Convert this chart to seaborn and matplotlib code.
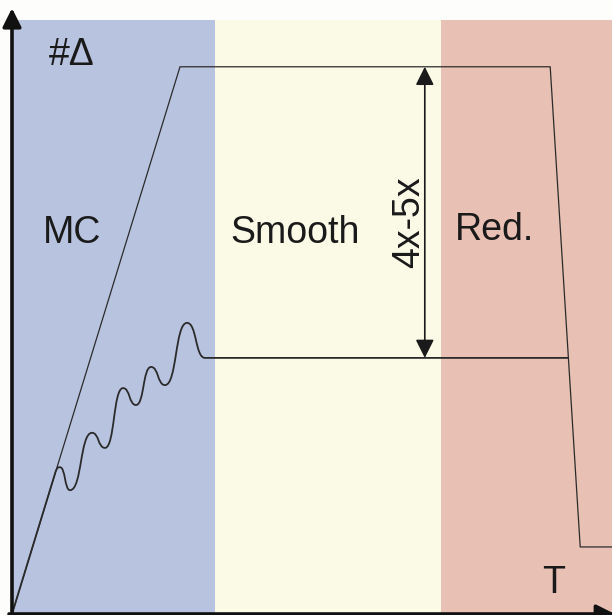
import seaborn as sns
import matplotlib.pyplot as plt
from matplotlib.path import Path
from matplotlib.patches import PathPatch

# --- Data (T on x, #Delta on y, both 0..100) ---
PHASES = ['MC', 'Smooth', 'Red.']
PHASE_START = [0, 33.8, 71.5]
PHASE_END = [33.8, 71.5, 100]
PHASE_COLORS = ['#b8c3df', '#fafae6', '#e9c0b4']
BAND_TOP = 98.3

# upper envelope (plain refinement)
UPPER_T = [0, 28.0, 89.7, 94.7, 100]
UPPER_D = [0, 90.6, 90.6, 11.1, 11.1]

# lower curve: start, departure from the ramp, then peaks/troughs, plateau
WAVE_T = [0, 7.0, 8.0, 9.67, 13.33, 15.5, 18.5, 20.67, 23.17, 25.5, 29.17, 32.17]
WAVE_D = [0, 22.7, 24.3, 20.5, 30.0, 27.5, 37.4, 34.6, 40.9, 37.9, 48.2, 42.4]
PLATEAU_END_T = 92.67

# 4x-5x range marker
RANGE_T = 68.8
RANGE_LOW = 42.4
RANGE_HIGH = 90.6


def draw():
    sns.set_theme(style="white")
    plt.rcParams['font.family'] = ['Liberation Sans', 'DejaVu Sans']

    fig = plt.figure(figsize=(6.12, 6.15), dpi=100)
    fig.patch.set_facecolor('#fdfdfb')
    ax = fig.add_axes([12 / 612, 1 / 615, 600 / 612, 604 / 615])
    ax.set_xlim(0, 100)
    ax.set_ylim(0, 100)
    ax.axis('off')

    # coloured phase bands
    for start, end, col in zip(PHASE_START, PHASE_END, PHASE_COLORS):
        ax.fill_between([start, end], 0, BAND_TOP, color=col, lw=0, zorder=0)

    line_col = '#2b2b2b'

    # upper envelope
    sns.lineplot(x=UPPER_T, y=UPPER_D, ax=ax, sort=False, estimator=None,
                 color=line_col, lw=0.9, zorder=3)

    # wavy lower curve as bezier path (horizontal tangents at the extremes)
    slope = UPPER_D[1] / UPPER_T[1]
    verts = [(WAVE_T[0], WAVE_D[0]), (WAVE_T[1], WAVE_D[1])]
    codes = [Path.MOVETO, Path.LINETO]
    for i in range(1, len(WAVE_T) - 1):
        ax0, ay0 = WAVE_T[i], WAVE_D[i]
        bx, by = WAVE_T[i + 1], WAVE_D[i + 1]
        h = 0.55 * (bx - ax0)
        if i == 1:
            c1 = (ax0 + h * 0.8, ay0 + h * 0.8 * slope)
        else:
            c1 = (ax0 + h, ay0)
        c2 = (bx - h, by)
        verts += [c1, c2, (bx, by)]
        codes += [Path.CURVE4] * 3
    verts.append((PLATEAU_END_T, WAVE_D[-1]))
    codes.append(Path.LINETO)
    ax.add_patch(PathPatch(Path(verts, codes), fill=False, ec=line_col,
                           lw=1.3, zorder=3))

    # double arrow for the 4x-5x range
    ax.annotate('', xy=(RANGE_T, RANGE_HIGH), xytext=(RANGE_T, RANGE_LOW),
                arrowprops=dict(arrowstyle='<|-|>', color='#1a1a1a', lw=1.2,
                                mutation_scale=28, shrinkA=0, shrinkB=0),
                zorder=4)
    ax.text(66.2, 64.8, '4x-5x', rotation=90, ha='center', va='center',
            fontsize=27, color='#1a1a1a')

    # axes with arrow heads
    ax.annotate('', xy=(0, 100.3), xytext=(0, -0.5),
                arrowprops=dict(arrowstyle='-|>', color='#111111', lw=2.6,
                                mutation_scale=28, shrinkA=0, shrinkB=0),
                annotation_clip=False, zorder=5)
    ax.annotate('', xy=(100.5, 0), xytext=(-0.5, 0),
                arrowprops=dict(arrowstyle='-|>', color='#111111', lw=2.6,
                                mutation_scale=28, shrinkA=0, shrinkB=0),
                annotation_clip=False, zorder=5)

    # labels
    txt = dict(fontsize=27, color='#1a1a1a', va='baseline', ha='center')
    ax.text(10.0, 61.4, 'MC', **txt)
    ax.text(47.2, 61.4, 'Smooth', **txt)
    ax.text(80.5, 62.0, 'Red.', **txt)
    ax.text(10.0, 90.9, '#Δ', **txt)
    ax.text(90.2, 3.5, 'T', **txt)

    fig.savefig('out.png', dpi=100, facecolor=fig.get_facecolor())


if __name__ == "__main__":
    draw()
